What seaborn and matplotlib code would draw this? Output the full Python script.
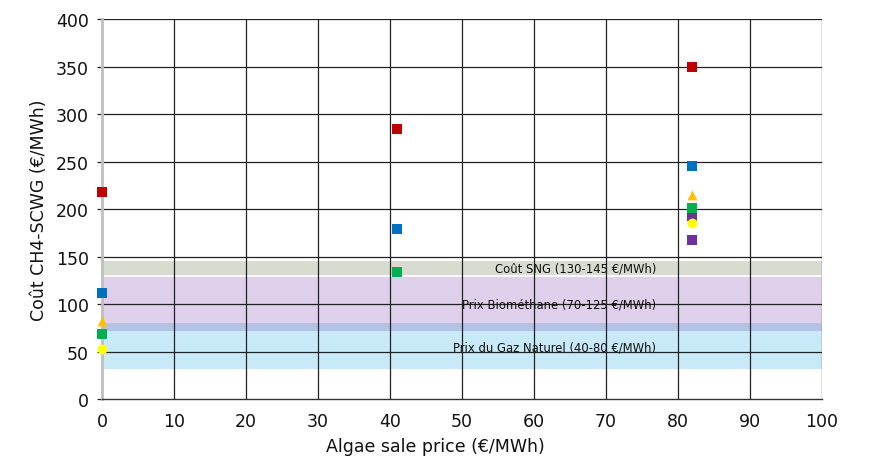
import matplotlib
matplotlib.use("Agg")
import matplotlib.pyplot as plt
import seaborn as sns
import pandas as pd

# Scenario series: algae sale price (€/MWh) vs CH4-SCWG cost (€/MWh)
red_x = [0, 41, 82]
red_y = [218, 284, 350]
blue_x = [0, 41, 82]
blue_y = [112, 179, 245]
green_x = [0, 41, 82]
green_y = [68, 134, 201]
orange_x = [0, 82]
orange_y = [82, 215]
yellow_x = [0, 82]
yellow_y = [53, 185]
purple_x = [82, 82]
purple_y = [193, 167]

# Reference price bands (€/MWh)
sng_band = [130, 145]
biomethane_band = [72, 130]
natural_gas_band = [32, 80]
band_labels = ["Coût SNG (130-145 €/MWh)",
               "Prix Biométhane (70-125 €/MWh)",
               "Prix du Gaz Naturel (40-80 €/MWh)"]

x_ticks = list(range(0, 101, 10))
y_ticks = list(range(0, 401, 50))

sns.set_theme(style="white")
plt.rcParams["font.family"] = ["DejaVu Sans"]

fig = plt.figure(figsize=(8.78, 4.60), dpi=100)
ax = fig.add_axes([0.1162, 0.1304, 0.82, 0.8261])

# bands
ax.axhspan(sng_band[0], sng_band[1], color="#D8DBCF", lw=0, zorder=0)
ax.axhspan(biomethane_band[0], biomethane_band[1], color="#DED0EA", lw=0, zorder=0)
ax.axhspan(natural_gas_band[0], natural_gas_band[1], color="#C8EAF8", lw=0, zorder=0)
ax.axhspan(biomethane_band[0], natural_gas_band[1], color="#B4C2E6", lw=0, zorder=0.5)
ax.axhline(sng_band[0], color="white", lw=1.2, zorder=0.6)

# grid
for xv in x_ticks[1:]:
    ax.axvline(xv, color="#222222", lw=0.9, zorder=1)
for yv in y_ticks[1:]:
    ax.axhline(yv, color="#222222", lw=0.9, zorder=1)

ax.text(77, 138, band_labels[0], ha="right", va="center", fontsize=8.4, color="#111111", zorder=2)
ax.text(77, 100, band_labels[1], ha="right", va="center", fontsize=8.4, color="#111111", zorder=2)
ax.text(77, 55, band_labels[2], ha="right", va="center", fontsize=8.4, color="#111111", zorder=2)

series = [
    (red_x, red_y, "#C00000", "s"),
    (blue_x, blue_y, "#0070C0", "s"),
    (purple_x, purple_y, "#7030A0", "s"),
    (green_x, green_y, "#00B050", "s"),
    (orange_x, orange_y, "#FFC000", "^"),
    (yellow_x, yellow_y, "#FFFF00", "o"),
]
for xs, ys, col, mk in series:
    df = pd.DataFrame({"x": xs, "y": ys})
    sns.scatterplot(data=df, x="x", y="y", ax=ax, color=col, marker=mk,
                    s=55 if mk == "s" else 50, linewidth=0, zorder=5, clip_on=False)

ax.set_xlim(0, 100)
ax.set_ylim(0, 400)
ax.set_xticks(x_ticks)
ax.set_yticks(y_ticks)
ax.tick_params(axis="both", labelsize=12.5, colors="#111111")
ax.tick_params(axis="y", length=3.6, width=0.9, color="#222222", direction="out", left=True, pad=5.8)
ax.tick_params(axis="x", length=0, pad=9)

for side in ["top", "right"]:
    ax.spines[side].set_visible(False)
ax.spines["left"].set_color("#BFBFBF")
ax.spines["left"].set_linewidth(2)
ax.spines["bottom"].set_color("#333333")
ax.spines["bottom"].set_linewidth(1)

ax.set_xlabel("Algae sale price (€/MWh)", fontsize=12.5, color="#111111")
ax.set_ylabel("Coût CH4-SCWG (€/MWh)", fontsize=12.5, color="#111111")
ax.xaxis.set_label_coords(0.463, -0.10)
ax.yaxis.set_label_coords(-0.075, 0.5)

fig.savefig("out.png", dpi=100)
